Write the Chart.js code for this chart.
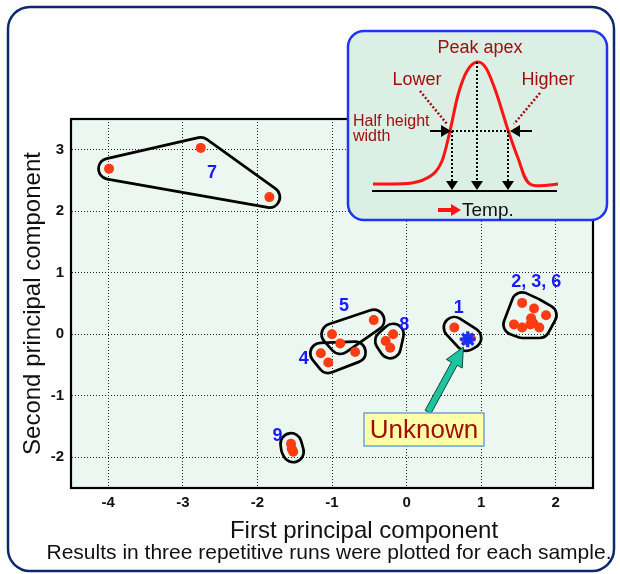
<!DOCTYPE html>
<html><head><meta charset="utf-8">
<script src="https://cdn.jsdelivr.net/npm/chart.js@4/dist/chart.umd.min.js"></script>
<style>html,body{margin:0;padding:0;background:#fff}#wrap{width:620px;height:574px;position:relative}</style>
</head><body><div id="wrap"><canvas id="c"></canvas></div>
<script>
// ---- data ----
const xTicks = [-4, -3, -2, -1, 0, 1, 2];
const yTicks = [-2, -1, 0, 1, 2, 3];
const groupNames = ['7', '5', '4', '8', '1', '2, 3, 6', '9'];
const pc1_7 = [-3.99, -2.76, -1.84];
const pc2_7 = [2.69, 3.03, 2.23];
const pc1_5 = [-0.44, -1.00, -0.89];
const pc2_5 = [0.23, 0.00, -0.15];
const pc1_4 = [-1.15, -1.05, -0.69];
const pc2_4 = [-0.31, -0.46, -0.29];
const pc1_8 = [-0.18, -0.28, -0.22];
const pc2_8 = [0.00, -0.11, -0.22];
const pc1_1 = [0.64, 0.86, 0.80];
const pc2_1 = [0.11, -0.06, -0.10];
const pc1_236 = [1.55, 1.71, 1.87, 1.67, 1.70, 1.44, 1.55, 1.66, 1.78];
const pc2_236 = [0.51, 0.42, 0.31, 0.26, 0.18, 0.16, 0.11, 0.16, 0.11];
const pc1_9 = [-1.55, -1.54, -1.52];
const pc2_9 = [-1.78, -1.86, -1.91];
const unknownPC1 = [0.82];
const unknownPC2 = [-0.08];
// label anchors (data coordinates) for the group names
const labelX = [-2.61, -0.84, -1.38, -0.03, 0.70, 1.74, -1.73];
const labelY = [2.62, 0.46, -0.41, 0.15, 0.42, 0.85, -1.65];
const unknownText = 'Unknown';

const groupsX = [pc1_7, pc1_5, pc1_4, pc1_8, pc1_1, pc1_236, pc1_9];
const groupsY = [pc2_7, pc2_5, pc2_4, pc2_8, pc2_1, pc2_236, pc2_9];
const FONT = '"Liberation Sans", Arial, sans-serif';

const sampleDatasets = groupNames.map((g, i) => ({
  label: 'Sample ' + g,
  data: groupsX[i].map((x, k) => ({x: x, y: groupsY[i][k]})),
  backgroundColor: '#ff3c12', borderWidth: 0, pointRadius: 5, order: 1
}));
const unknownDataset = {
  label: 'Unknown',
  data: unknownPC1.map((x, k) => ({x: x, y: unknownPC2[k]})),
  pointStyle: 'star', pointRadius: 8, borderColor: '#1830ff', borderWidth: 3.2, backgroundColor: '#1830ff', order: 0
};

function convexHull(p) {
  const pts = p.slice().sort((a, b) => a.x - b.x || a.y - b.y);
  if (pts.length < 3) return pts;
  const cross = (o, a, b) => (a.x - o.x) * (b.y - o.y) - (a.y - o.y) * (b.x - o.x);
  const lower = [], upper = [];
  for (const q of pts) { while (lower.length >= 2 && cross(lower[lower.length-2], lower[lower.length-1], q) <= 0) lower.pop(); lower.push(q); }
  for (let i = pts.length - 1; i >= 0; i--) { const q = pts[i]; while (upper.length >= 2 && cross(upper[upper.length-2], upper[upper.length-1], q) <= 0) upper.pop(); upper.push(q); }
  upper.pop(); lower.pop();
  return lower.concat(upper);
}

function drawBlob(chart, pts, r, lw) {
  const off = document.createElement('canvas');
  off.width = chart.width; off.height = chart.height;
  const o = off.getContext('2d');
  const hull = convexHull(pts);
  o.lineJoin = 'round'; o.lineCap = 'round';
  const path = () => { o.beginPath(); hull.forEach((q, i) => i ? o.lineTo(q.x, q.y) : o.moveTo(q.x, q.y)); o.closePath(); };
  o.fillStyle = '#000'; o.strokeStyle = '#000';
  path(); o.lineWidth = 2 * (r + lw / 2); o.stroke(); o.fill();
  o.globalCompositeOperation = 'destination-out';
  path(); o.lineWidth = 2 * (r - lw / 2); o.stroke(); o.fill();
  chart.ctx.drawImage(off, 0, 0);
}

function roundRect(ctx, x, y, w, h, r) {
  ctx.beginPath();
  ctx.moveTo(x + r, y); ctx.lineTo(x + w - r, y); ctx.arcTo(x + w, y, x + w, y + r, r);
  ctx.lineTo(x + w, y + h - r); ctx.arcTo(x + w, y + h, x + w - r, y + h, r);
  ctx.lineTo(x + r, y + h); ctx.arcTo(x, y + h, x, y + h - r, r);
  ctx.lineTo(x, y + r); ctx.arcTo(x, y, x + r, y, r); ctx.closePath();
}

function smoothCurve(ctx, p) {
  ctx.beginPath(); ctx.moveTo(p[0][0], p[0][1]);
  for (let i = 0; i < p.length - 1; i++) {
    const p0 = p[Math.max(0, i - 1)], p1 = p[i], p2 = p[i + 1], p3 = p[Math.min(p.length - 1, i + 2)];
    ctx.bezierCurveTo(p1[0] + (p2[0] - p0[0]) / 6, p1[1] + (p2[1] - p0[1]) / 6,
                      p2[0] - (p3[0] - p1[0]) / 6, p2[1] - (p3[1] - p1[1]) / 6, p2[0], p2[1]);
  }
}

function downTri(ctx, x, yTop, w, h) {
  ctx.beginPath(); ctx.moveTo(x - w / 2, yTop); ctx.lineTo(x + w / 2, yTop); ctx.lineTo(x, yTop + h); ctx.closePath(); ctx.fill();
}

const decor = {
  id: 'decor',
  beforeDraw(chart) {
    const {ctx, chartArea: a} = chart;
    ctx.save();
    ctx.fillStyle = '#edf7f1';
    ctx.fillRect(a.left, a.top, a.right - a.left, a.bottom - a.top);
    ctx.restore();
  },
  beforeDatasetsDraw(chart) {
    const {ctx, chartArea: a} = chart;
    ctx.save();
    ctx.strokeStyle = '#000'; ctx.lineWidth = 2.2;
    ctx.strokeRect(a.left, a.top, a.right - a.left, a.bottom - a.top);
    ctx.restore();
    // cluster outlines, computed from each group's points
    const xs = chart.scales.x, ys = chart.scales.y;
    groupsX.forEach((gx, i) => {
      const pts = gx.map((x, k) => ({x: xs.getPixelForValue(x), y: ys.getPixelForValue(groupsY[i][k])}));
      drawBlob(chart, pts, 10.5, 2.7);
    });
  },
  afterDatasetsDraw(chart) {
    const {ctx} = chart;
    const xs = chart.scales.x, ys = chart.scales.y;
    ctx.save();
    // group labels
    ctx.fillStyle = '#1a1aff'; ctx.font = 'bold 18px ' + FONT;
    ctx.textAlign = 'center'; ctx.textBaseline = 'middle';
    groupNames.forEach((g, i) => ctx.fillText(g, xs.getPixelForValue(labelX[i]), ys.getPixelForValue(labelY[i])));

    // Unknown box and arrow
    const sx = xs.getPixelForValue(unknownPC1[0]), sy = ys.getPixelForValue(unknownPC2[0]);
    const bx = 364, by = 413, bw = 120, bh = 33;
    const ax0 = bx + bw / 2 + 4, ay0 = by - 1;
    const dx = sx - ax0, dy = sy - ay0, L = Math.hypot(dx, dy);
    const ux = dx / L, uy = dy / L, nx = -uy, ny = ux;
    const tipX = sx - ux * 9, tipY = sy - uy * 9;
    const hl = 19, hw = 9, sw = 3.3;
    const baseX = tipX - ux * hl, baseY = tipY - uy * hl;
    ctx.beginPath();
    ctx.moveTo(ax0 + nx * sw, ay0 + ny * sw);
    ctx.lineTo(baseX + nx * sw, baseY + ny * sw);
    ctx.lineTo(baseX + nx * hw, baseY + ny * hw);
    ctx.lineTo(tipX, tipY);
    ctx.lineTo(baseX - nx * hw, baseY - ny * hw);
    ctx.lineTo(baseX - nx * sw, baseY - ny * sw);
    ctx.lineTo(ax0 - nx * sw, ay0 - ny * sw);
    ctx.closePath();
    ctx.fillStyle = '#1fc39e'; ctx.fill();
    ctx.strokeStyle = '#0b4a3c'; ctx.lineWidth = 1; ctx.stroke();

    ctx.fillStyle = '#ffffa8'; ctx.fillRect(bx, by, bw, bh);
    ctx.strokeStyle = '#6fa3d8'; ctx.lineWidth = 1.5; ctx.strokeRect(bx, by, bw, bh);
    ctx.fillStyle = '#a00e0e'; ctx.font = '26px ' + FONT;
    ctx.textAlign = 'center'; ctx.textBaseline = 'middle';
    ctx.fillText(unknownText, bx + bw / 2, by + bh / 2 + 1);

    // axis title and footnote
    ctx.fillStyle = '#111';
    ctx.font = '24px ' + FONT;
    ctx.fillText('First principal component', 364, 531);
    ctx.font = '21px ' + FONT;
    ctx.fillText('Results in three repetitive runs were plotted for each sample.', 329, 553);

    // ---- inset schematic ----
    roundRect(ctx, 348, 31, 259, 189, 16);
    ctx.fillStyle = '#dcefe5'; ctx.fill();
    ctx.strokeStyle = '#1f35f0'; ctx.lineWidth = 2.5; ctx.stroke();

    const dred = '#a00e0e';
    // red peak
    ctx.strokeStyle = '#ff1414'; ctx.lineWidth = 3; ctx.lineJoin = 'round';
    smoothCurve(ctx, [[373,184],[412,183],[432,175],[442,161],[450,131],[458,95],[467,71],[477,62],[486,68],[496,92],[508,130],[518,158],[530,184],[558,184]]);
    ctx.stroke();
    // baseline
    ctx.strokeStyle = '#000'; ctx.lineWidth = 2;
    ctx.beginPath(); ctx.moveTo(372, 191); ctx.lineTo(557, 191); ctx.stroke();
    // dotted guides
    ctx.setLineDash([2, 2]); ctx.lineWidth = 2;
    ctx.beginPath();
    ctx.moveTo(452, 131); ctx.lineTo(452, 182);
    ctx.moveTo(477, 62); ctx.lineTo(477, 182);
    ctx.moveTo(508, 131); ctx.lineTo(508, 182);
    ctx.moveTo(452, 131); ctx.lineTo(508, 131);
    ctx.stroke();
    ctx.strokeStyle = dred; ctx.lineWidth = 2.5;
    ctx.beginPath();
    ctx.moveTo(420, 91); ctx.lineTo(447, 124);
    ctx.moveTo(540, 93); ctx.lineTo(514, 124);
    ctx.stroke();
    ctx.setLineDash([]);
    // down triangles
    ctx.fillStyle = '#000';
    downTri(ctx, 452, 181, 12, 9); downTri(ctx, 477, 181, 12, 9); downTri(ctx, 508, 181, 12, 9);
    // half-height arrows
    ctx.lineWidth = 2; ctx.strokeStyle = '#000';
    ctx.beginPath(); ctx.moveTo(430, 131); ctx.lineTo(443, 131); ctx.moveTo(532, 131); ctx.lineTo(518, 131); ctx.stroke();
    ctx.beginPath(); ctx.moveTo(451, 131); ctx.lineTo(441, 125); ctx.lineTo(441, 137); ctx.closePath(); ctx.fill();
    ctx.beginPath(); ctx.moveTo(510, 131); ctx.lineTo(520, 125); ctx.lineTo(520, 137); ctx.closePath(); ctx.fill();
    // temp arrow
    ctx.strokeStyle = '#ff1414'; ctx.fillStyle = '#ff1414'; ctx.lineWidth = 4;
    ctx.beginPath(); ctx.moveTo(438, 210); ctx.lineTo(452, 210); ctx.stroke();
    ctx.beginPath(); ctx.moveTo(461, 210); ctx.lineTo(451, 204); ctx.lineTo(451, 216); ctx.closePath(); ctx.fill();
    // inset texts
    ctx.fillStyle = dred; ctx.textAlign = 'center'; ctx.textBaseline = 'middle';
    ctx.font = '18px ' + FONT;
    ctx.fillText('Peak apex', 480, 48);
    ctx.fillText('Lower', 417, 80);
    ctx.fillText('Higher', 548, 80);
    ctx.textAlign = 'left'; ctx.font = '16px ' + FONT;
    ctx.fillText('Half height', 353, 122);
    ctx.fillText('width', 353, 137);
    ctx.fillStyle = '#111'; ctx.font = '19px ' + FONT;
    ctx.fillText('Temp.', 462, 211);

    // outer frame
    roundRect(ctx, 8, 7, 606, 564, 22);
    ctx.strokeStyle = '#0c2a6a'; ctx.lineWidth = 2.5; ctx.stroke();
    ctx.restore();
  }
};

new Chart(document.getElementById('c'), {
  type: 'scatter',
  data: {datasets: sampleDatasets.concat([unknownDataset])},
  options: {
    responsive: true, maintainAspectRatio: false, animation: false,
    layout: {padding: {left: 0, top: 119, right: 27, bottom: 0}},
    plugins: {legend: {display: false}, tooltip: {enabled: false}},
    scales: {
      x: {
        type: 'linear', min: -4.5, max: 2.5,
        afterBuildTicks: s => { s.ticks = xTicks.map(v => ({value: v})); },
        afterFit: s => { s.height = 86; },
        grid: {color: '#222', lineWidth: 1, drawTicks: false},
        border: {display: true, color: '#000', width: 2, dash: [1, 2]},
        ticks: {color: '#111', font: {family: FONT, size: 15, weight: 'bold'}, padding: 6, maxRotation: 0}
      },
      y: {
        type: 'linear', min: -2.5, max: 3.5,
        afterBuildTicks: s => { s.ticks = yTicks.map(v => ({value: v})); },
        afterFit: s => { s.width = 71; },
        grid: {color: '#222', lineWidth: 1, drawTicks: false},
        border: {display: true, color: '#000', width: 2, dash: [1, 2]},
        ticks: {color: '#111', font: {family: FONT, size: 15, weight: 'bold'}, padding: 7},
        title: {display: true, text: 'Second principal component', color: '#111', font: {family: FONT, size: 24}, padding: {top: 19, bottom: 0}}
      }
    }
  },
  plugins: [decor]
});
</script></body></html>
